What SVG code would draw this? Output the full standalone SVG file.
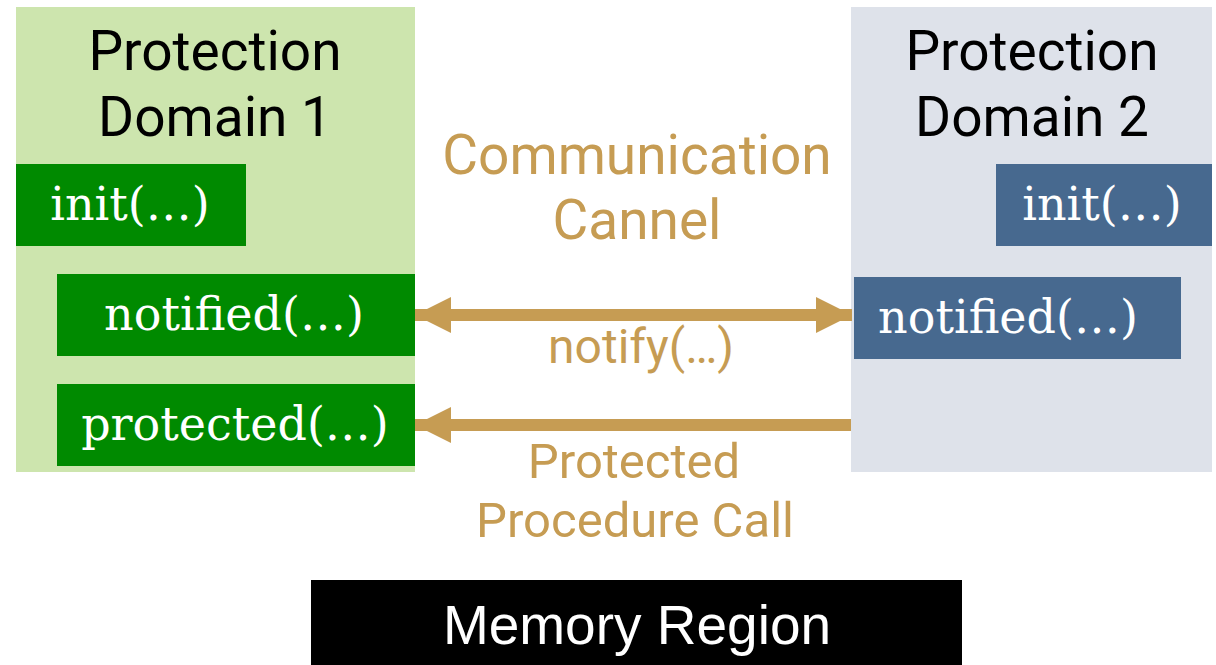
<svg xmlns="http://www.w3.org/2000/svg" width="1216" height="665" viewBox="0 0 1216 665">
<defs>
<style>
.title{font-family:Roboto,"Liberation Sans",sans-serif;font-size:55px;fill:#000;text-anchor:middle}
.gold{font-family:Roboto,"Liberation Sans",sans-serif;fill:#C69C53;text-anchor:middle}
.fn{font-family:"DejaVu Serif","Liberation Serif",serif;font-size:46px;fill:#fff;text-anchor:middle}
.mem{font-family:"Liberation Sans",Arial,sans-serif;font-size:55px;fill:#fff;text-anchor:middle}
.conn{stroke:#C69C53;stroke-width:12;fill:none}
</style>
<marker id="ah" viewBox="0 0 36 36" refX="36" refY="18" markerWidth="36" markerHeight="36" markerUnits="userSpaceOnUse" orient="auto-start-reverse">
<path d="M0,0 L36,18 L0,36 Z" fill="#C69C53"/>
</marker>
</defs>
<rect width="1216" height="665" fill="#fff"/>
<g id="pd1">
<rect x="16" y="7" width="399" height="465" fill="#CDE5AE"/>
<text class="title" x="215" y="70">Protection</text>
<text class="title" x="215" y="136">Domain 1</text>
</g>
<g id="pd2">
<rect x="851" y="7" width="361" height="465" fill="#DEE2EA"/>
<text class="title" x="1032" y="70">Protection</text>
<text class="title" x="1032" y="136">Domain 2</text>
</g>
<g id="pd1-init">
<rect x="16" y="164" width="230" height="82" fill="#008A00"/>
<text class="fn" x="130" y="220">init(…)</text>
</g>
<g id="pd1-notified">
<rect x="57" y="274" width="358" height="82" fill="#008A00"/>
<text class="fn" x="234" y="330">notified(…)</text>
</g>
<g id="pd1-protected">
<rect x="57" y="384" width="358" height="82" fill="#008A00"/>
<text class="fn" x="235" y="440">protected(…)</text>
</g>
<g id="pd2-init">
<rect x="996" y="164" width="216" height="82" fill="#47698F"/>
<text class="fn" x="1102" y="220">init(…)</text>
</g>
<g id="pd2-notified">
<rect x="854" y="277" width="327" height="82" fill="#47698F"/>
<text class="fn" x="1008" y="333">notified(…)</text>
</g>
<g id="channel-label">
<text class="gold" x="637" y="174" font-size="55">Communication</text>
<text class="gold" x="637" y="239" font-size="55">Cannel</text>
</g>
<g id="connectors">
<line class="conn" x1="415" y1="315" x2="852" y2="315" marker-start="url(#ah)" marker-end="url(#ah)"/>
<line class="conn" x1="851" y1="425" x2="415" y2="425" marker-end="url(#ah)"/>
<text class="gold" x="641" y="363" font-size="48">notify(…)</text>
<text class="gold" x="634" y="478" font-size="49">Protected</text>
<text class="gold" x="635" y="537" font-size="49">Procedure Call</text>
</g>
<g id="memory">
<rect x="311" y="580" width="651" height="85" fill="#000"/>
<text class="mem" x="637" y="644">Memory Region</text>
</g>
</svg>
